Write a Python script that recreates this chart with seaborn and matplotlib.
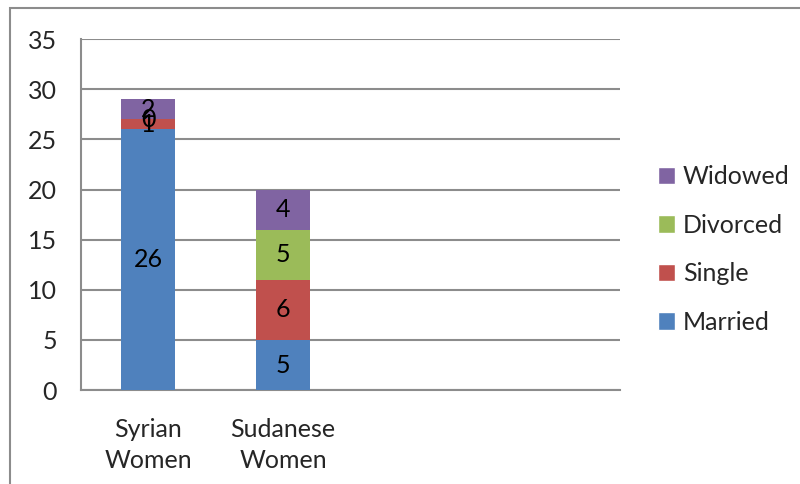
import numpy as np
import pandas as pd
import seaborn as sns
import matplotlib.pyplot as plt
from matplotlib.patches import Rectangle, Patch

#%% data

groups = ['Syrian\nWomen', 'Sudanese\nWomen']
married = [26, 5]
single = [1, 6]
divorced = [0, 5]
widowed = [2, 4]

statuses = ['Married', 'Single', 'Divorced', 'Widowed']
colors = ['#4F81BD', '#C0504D', '#9BBB59', '#8064A2']

#%% style

sns.set_style('white')
plt.rcParams['font.family'] = ['Lato', 'DejaVu Sans']
plt.rcParams['font.size'] = 18

df = pd.DataFrame({'Group': groups, 'Married': married, 'Single': single,
                   'Divorced': divorced, 'Widowed': widowed})
cum = df[statuses].cumsum(axis=1)

fig = plt.figure(figsize=(8, 4.84), dpi=100)
ax = fig.add_axes([0.101, 0.194, 0.674, 0.725])

# outer frame (only left/top visible in the reference)
fig.patches.append(Rectangle((10 / 800, -0.1), 1.2, 1 - 8 / 484 + 0.1,
                             transform=fig.transFigure, fill=False,
                             edgecolor='#8c8c8c', linewidth=1.5, zorder=-1))

# stacked bars: draw cumulative totals from the top layer down
for st, c in reversed(list(zip(statuses, colors))):
    sns.barplot(x=df['Group'], y=cum[st], color=c, width=0.4,
                saturation=1, ax=ax, zorder=3, edgecolor='none')

# segment labels
for i in range(len(groups)):
    for st in statuses:
        v = df.loc[i, st]
        ax.text(i, cum.loc[i, st] - v / 2, str(v), ha='center', va='center',
                fontsize=18, color='black', zorder=5)

ax.set_xlim(-0.5, 3.5)
ax.set_ylim(0, 35)
ax.set_yticks(np.arange(0, 36, 5))
ax.set_xlabel('')
ax.set_ylabel('')

ax.set_xticks([0, 1])
ax.set_xticklabels(groups, linespacing=1.45)
ax.set_xticks(np.arange(-0.5, 3.6, 1), minor=True)
ax.tick_params(axis='x', which='major', length=0, pad=20)
ax.tick_params(axis='x', which='minor', length=7, width=1.5, color='#8c8c8c')
ax.tick_params(axis='y', length=7, width=1.5, color='#8c8c8c', pad=10)

ax.grid(axis='y', color='#8c8c8c', linewidth=1.5, zorder=0)
ax.set_axisbelow(True)
sns.despine(ax=ax, top=True, right=True)
for s in ['left', 'bottom']:
    ax.spines[s].set_color('#8c8c8c')
    ax.spines[s].set_linewidth(1.5)

handles = [Patch(facecolor=c, label=s) for s, c in zip(statuses, colors)][::-1]
ax.legend(handles=handles, loc='center left', bbox_to_anchor=(1.07, 0.40),
          frameon=False, handlelength=0.7, handleheight=0.7, borderpad=0,
          borderaxespad=0, handletextpad=0.3, labelspacing=1.02, fontsize=18)

fig.savefig('out.png', dpi=100)
